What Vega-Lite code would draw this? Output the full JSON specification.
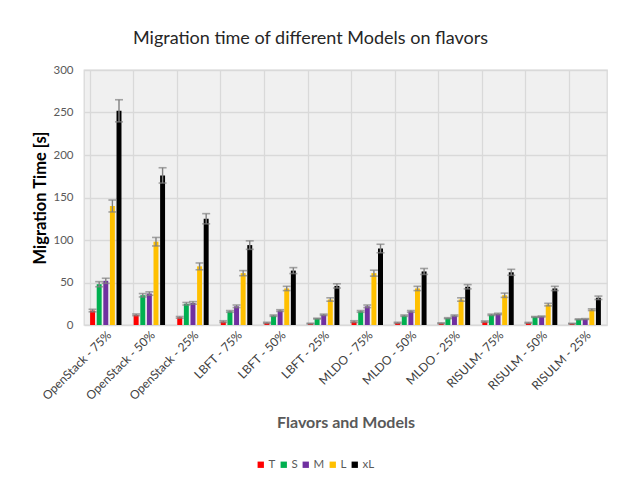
{
  "$schema": "https://vega.github.io/schema/vega-lite/v6.json",
  "autosize": {"type": "none"},
  "padding": {"left": 84, "top": 70, "right": 15, "bottom": 159},
  "width": 523,
  "height": 255,
  "background": "#ffffff",
  "title": {
    "text": "Migration time of different Models on flavors",
    "anchor": "middle",
    "dx": -35,
    "offset": 16,
    "font": "Lato",
    "fontSize": 18,
    "fontWeight": "normal",
    "color": "#262626"
  },
  "config": {
    "font": "Lato",
    "view": {"fill": "#f0f0f0", "stroke": "#d9d9d9", "strokeWidth": 1.3}
  },
  "data": {
    "values": [
      {"flavor": "OpenStack - 75%", "size": "T", "v": 17, "lo": 15.5, "hi": 18.5},
      {"flavor": "OpenStack - 75%", "size": "S", "v": 48, "lo": 45, "hi": 51},
      {"flavor": "OpenStack - 75%", "size": "M", "v": 52, "lo": 49, "hi": 55},
      {"flavor": "OpenStack - 75%", "size": "L", "v": 140, "lo": 133, "hi": 147},
      {"flavor": "OpenStack - 75%", "size": "xL", "v": 252, "lo": 239, "hi": 265},
      {"flavor": "OpenStack - 50%", "size": "T", "v": 12, "lo": 11, "hi": 13},
      {"flavor": "OpenStack - 50%", "size": "S", "v": 35, "lo": 33, "hi": 37},
      {"flavor": "OpenStack - 50%", "size": "M", "v": 37, "lo": 35, "hi": 39},
      {"flavor": "OpenStack - 50%", "size": "L", "v": 98, "lo": 93, "hi": 103},
      {"flavor": "OpenStack - 50%", "size": "xL", "v": 176, "lo": 167, "hi": 185},
      {"flavor": "OpenStack - 25%", "size": "T", "v": 9, "lo": 8, "hi": 10},
      {"flavor": "OpenStack - 25%", "size": "S", "v": 25, "lo": 23.5, "hi": 26.5},
      {"flavor": "OpenStack - 25%", "size": "M", "v": 26, "lo": 24.5, "hi": 27.5},
      {"flavor": "OpenStack - 25%", "size": "L", "v": 69, "lo": 65, "hi": 73},
      {"flavor": "OpenStack - 25%", "size": "xL", "v": 125, "lo": 119, "hi": 131},
      {"flavor": "LBFT - 75%", "size": "T", "v": 4, "lo": 3, "hi": 5},
      {"flavor": "LBFT - 75%", "size": "S", "v": 16, "lo": 15, "hi": 17},
      {"flavor": "LBFT - 75%", "size": "M", "v": 22, "lo": 20.5, "hi": 23.5},
      {"flavor": "LBFT - 75%", "size": "L", "v": 61, "lo": 58, "hi": 64},
      {"flavor": "LBFT - 75%", "size": "xL", "v": 94, "lo": 89, "hi": 99},
      {"flavor": "LBFT - 50%", "size": "T", "v": 2.5, "lo": 1.8, "hi": 3.2},
      {"flavor": "LBFT - 50%", "size": "S", "v": 11, "lo": 10.2, "hi": 11.8},
      {"flavor": "LBFT - 50%", "size": "M", "v": 17, "lo": 16, "hi": 18},
      {"flavor": "LBFT - 50%", "size": "L", "v": 43, "lo": 40.5, "hi": 45.5},
      {"flavor": "LBFT - 50%", "size": "xL", "v": 64, "lo": 60.5, "hi": 67.5},
      {"flavor": "LBFT - 25%", "size": "T", "v": 1.6, "lo": 1.1, "hi": 2.1},
      {"flavor": "LBFT - 25%", "size": "S", "v": 7.5, "lo": 7, "hi": 8},
      {"flavor": "LBFT - 25%", "size": "M", "v": 12, "lo": 11.2, "hi": 12.8},
      {"flavor": "LBFT - 25%", "size": "L", "v": 30, "lo": 28, "hi": 32},
      {"flavor": "LBFT - 25%", "size": "xL", "v": 46, "lo": 43.5, "hi": 48.5},
      {"flavor": "MLDO - 75%", "size": "T", "v": 4, "lo": 3, "hi": 5},
      {"flavor": "MLDO - 75%", "size": "S", "v": 16, "lo": 15, "hi": 17},
      {"flavor": "MLDO - 75%", "size": "M", "v": 22, "lo": 20.5, "hi": 23.5},
      {"flavor": "MLDO - 75%", "size": "L", "v": 61, "lo": 57.5, "hi": 64.5},
      {"flavor": "MLDO - 75%", "size": "xL", "v": 90, "lo": 85, "hi": 95},
      {"flavor": "MLDO - 50%", "size": "T", "v": 2.5, "lo": 1.8, "hi": 3.2},
      {"flavor": "MLDO - 50%", "size": "S", "v": 11, "lo": 10.2, "hi": 11.8},
      {"flavor": "MLDO - 50%", "size": "M", "v": 16, "lo": 15, "hi": 17},
      {"flavor": "MLDO - 50%", "size": "L", "v": 43, "lo": 40.5, "hi": 45.5},
      {"flavor": "MLDO - 50%", "size": "xL", "v": 63, "lo": 59.5, "hi": 66.5},
      {"flavor": "MLDO - 25%", "size": "T", "v": 2, "lo": 1.4, "hi": 2.6},
      {"flavor": "MLDO - 25%", "size": "S", "v": 8, "lo": 7.4, "hi": 8.6},
      {"flavor": "MLDO - 25%", "size": "M", "v": 11, "lo": 10.2, "hi": 11.8},
      {"flavor": "MLDO - 25%", "size": "L", "v": 30, "lo": 28, "hi": 32},
      {"flavor": "MLDO - 25%", "size": "xL", "v": 45, "lo": 42.5, "hi": 47.5},
      {"flavor": "RISULM- 75%", "size": "T", "v": 4, "lo": 3.2, "hi": 4.8},
      {"flavor": "RISULM- 75%", "size": "S", "v": 12, "lo": 11.2, "hi": 12.8},
      {"flavor": "RISULM- 75%", "size": "M", "v": 13, "lo": 12.2, "hi": 13.8},
      {"flavor": "RISULM- 75%", "size": "L", "v": 35, "lo": 32.5, "hi": 37.5},
      {"flavor": "RISULM- 75%", "size": "xL", "v": 62, "lo": 58.5, "hi": 65.5},
      {"flavor": "RISULM - 50%", "size": "T", "v": 2.5, "lo": 1.9, "hi": 3.1},
      {"flavor": "RISULM - 50%", "size": "S", "v": 9.5, "lo": 9, "hi": 10},
      {"flavor": "RISULM - 50%", "size": "M", "v": 10, "lo": 9.4, "hi": 10.6},
      {"flavor": "RISULM - 50%", "size": "L", "v": 24, "lo": 22.5, "hi": 25.5},
      {"flavor": "RISULM - 50%", "size": "xL", "v": 43, "lo": 40.5, "hi": 45.5},
      {"flavor": "RISULM - 25%", "size": "T", "v": 1.6, "lo": 1.2, "hi": 2},
      {"flavor": "RISULM - 25%", "size": "S", "v": 6.7, "lo": 6.2, "hi": 7.2},
      {"flavor": "RISULM - 25%", "size": "M", "v": 7, "lo": 6.5, "hi": 7.5},
      {"flavor": "RISULM - 25%", "size": "L", "v": 18, "lo": 17, "hi": 19},
      {"flavor": "RISULM - 25%", "size": "xL", "v": 32, "lo": 30, "hi": 34}
    ]
  },
  "encoding": {
    "x": {
      "field": "flavor",
      "type": "nominal",
      "sort": null,
      "scale": {"paddingInner": 0.28, "paddingOuter": 0.14},
      "axis": {
        "title": "Flavors and Models",
        "titleFont": "Lato",
        "titleFontSize": 16,
        "titleFontWeight": "bold",
        "titleColor": "#595959",
        "titlePadding": 13,
        "labelAngle": -45,
        "labelAlign": "right",
        "labelBaseline": "top",
        "labelFontSize": 12,
        "labelColor": "#404040",
        "labelPadding": 4,
        "ticks": false,
        "domain": false,
        "grid": true,
        "bandPosition": 0,
        "gridColor": "#d9d9d9",
        "gridWidth": 1.3
      }
    },
    "xOffset": {
      "field": "size",
      "type": "nominal",
      "sort": ["T", "S", "M", "L", "xL"],
      "scale": {"paddingInner": 0.25}
    }
  },
  "layer": [
    {
      "mark": {"type": "bar"},
      "encoding": {
        "y": {
          "field": "v",
          "type": "quantitative",
          "scale": {"domain": [0, 300], "nice": false},
          "axis": {
            "title": "Migration Time [s]",
            "titleFont": "Lato",
            "titleFontSize": 16.5,
            "titleFontWeight": "bold",
            "titleColor": "#000000",
            "titlePadding": 4,
            "values": [0, 50, 100, 150, 200, 250, 300],
            "labelFontSize": 11.5,
            "labelColor": "#595959",
            "labelPadding": 11,
            "ticks": false,
            "domain": false,
            "gridColor": "#d9d9d9",
            "gridWidth": 1.3
          }
        },
        "color": {
          "field": "size",
          "type": "nominal",
          "scale": {
            "domain": ["T", "S", "M", "L", "xL"],
            "range": ["#ff0000", "#00b050", "#7030a0", "#ffc000", "#000000"]
          },
          "legend": {
            "title": null,
            "orient": "none",
            "direction": "horizontal",
            "legendX": 171,
            "legendY": 389,
            "gridAlign": "none",
            "symbolType": "square",
            "symbolSize": 40,
            "symbolStrokeWidth": 0,
            "labelFontSize": 11.5,
            "labelColor": "#595959",
            "labelOffset": 2,
            "columnPadding": 2
          }
        }
      }
    },
    {
      "mark": {"type": "rule", "color": "#808080", "strokeWidth": 1.4},
      "encoding": {
        "y": {"field": "lo", "type": "quantitative"},
        "y2": {"field": "hi"}
      }
    },
    {
      "mark": {"type": "tick", "color": "#808080", "size": 8, "thickness": 1.6},
      "encoding": {"y": {"field": "lo", "type": "quantitative"}}
    },
    {
      "mark": {"type": "tick", "color": "#808080", "size": 8, "thickness": 1.6},
      "encoding": {"y": {"field": "hi", "type": "quantitative"}}
    }
  ]
}
